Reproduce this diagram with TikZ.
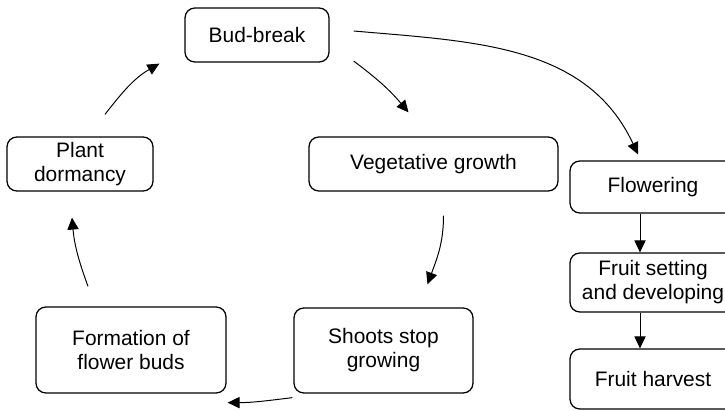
\documentclass[tikz,border=0pt]{standalone}
\usepackage{fontspec}
\setmainfont{Liberation Sans}
\usetikzlibrary{arrows.meta,positioning}

\begin{document}
\begin{tikzpicture}[
  stage/.style={rectangle,rounded corners=7pt,draw,line width=0.9pt,
                align=center,inner sep=2pt,minimum height=1.35cm,
                font=\fontsize{14.9}{17}\selectfont},
  arrow/.style={-{Triangle[length=8.5pt,width=8pt]},line width=0.7pt}]
\useasboundingbox (0,0) rectangle (18.125,10.275);
% growth cycle
\node[stage,minimum width=3.6cm] (bud) at (6.425,9.4) {Bud-break};
\node[stage,minimum width=6.225cm] (veg) at (10.8375,6.175) {Vegetative growth};
\node[stage,minimum width=4.475cm,minimum height=2.125cm] (shoots) at (9.5875,1.5125)
  {Shoots stop\\growing};
\node[stage,minimum width=4.75cm,minimum height=2.15cm] (buds) at (3.275,1.525)
  {Formation of\\flower buds};
\node[stage,minimum width=3.65cm] (dorm) at (2.0,6.175) {Plant\\dormancy};
% fruiting branch
\node[stage,minimum width=4.15cm,minimum height=1.3cm] (flow) at (16.325,5.6) {Flowering};
\node[stage,minimum width=4.15cm,minimum height=1.475cm] (set) at (16.325,3.2125)
  {Fruit setting\\and developing};
\node[stage,minimum width=4.15cm,minimum height=1.5cm] (harv) at (16.325,0.8) {Fruit harvest};
\draw[arrow] ([xshift=0.6cm,yshift=0.1cm]bud.east) to[out=-5,in=115]
  ([xshift=-0.375cm,yshift=0.15cm]flow.north);
\draw[arrow] ([xshift=0.6cm,yshift=-0.65cm]bud.east) to[out=-37,in=130]
  ([xshift=-0.625cm,yshift=0.6cm]veg.north);
\draw[arrow] ([xshift=0.25cm,yshift=-0.6cm]veg.south) to[out=-90,in=70]
  ([xshift=1.1cm,yshift=0.575cm]shoots.north);
\draw[arrow] ([xshift=-0.025cm,yshift=-0.1cm]shoots.south west) to[out=187,in=0]
  ([xshift=0.025cm,yshift=-0.225cm]buds.south east);
\draw[arrow] ([xshift=-1.075cm,yshift=0.5cm]buds.north) to[out=110,in=-85]
  ([xshift=-0.2cm,yshift=-0.65cm]dorm.south);
\draw[arrow] ([xshift=0.625cm,yshift=0.55cm]dorm.north) to[out=52,in=-150]
  ([xshift=-0.625cm,yshift=-0.025cm]bud.south west);
\draw[arrow] ([xshift=-0.325cm]flow.south) -- ([xshift=-0.325cm]set.north);
\draw[arrow] ([xshift=-0.325cm]set.south) -- ([xshift=-0.325cm]harv.north);
\end{tikzpicture}
\end{document}
